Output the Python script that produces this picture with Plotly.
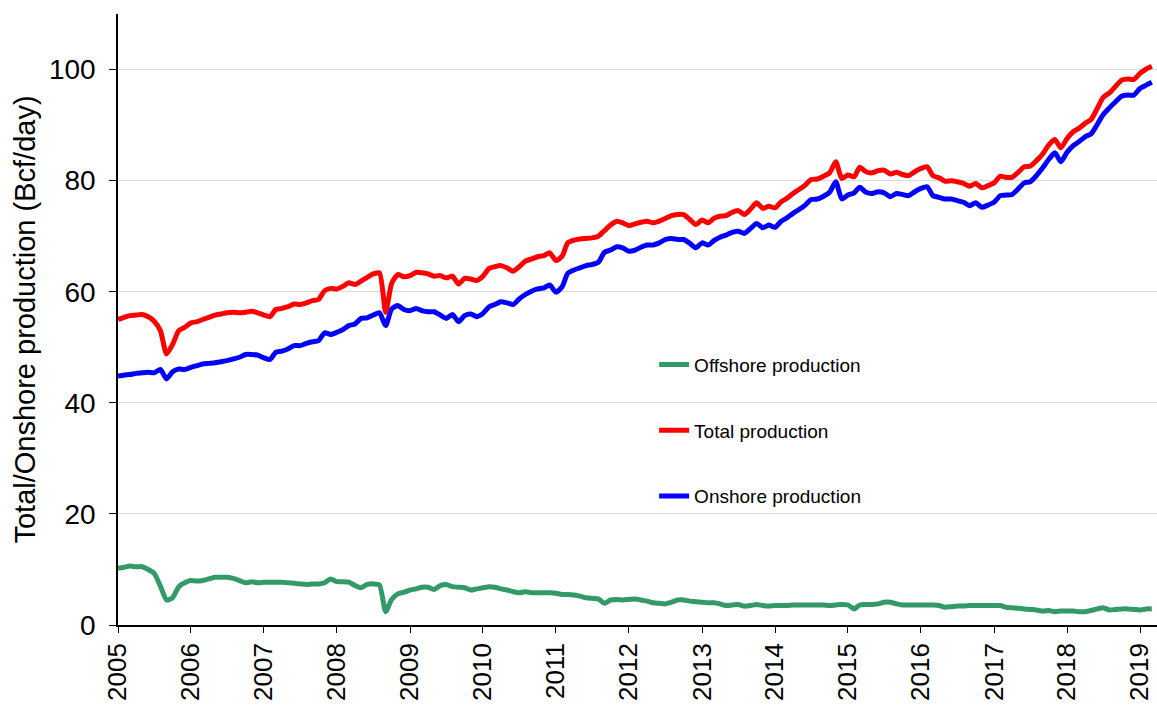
import pandas as pd
import plotly.graph_objects as go

# monthly values, Jan 2005 - Mar 2019 (Bcf/day)
total = [
    55.0, 55.4, 55.7, 55.8, 55.9, 55.5, 54.7, 53.0, 48.8, 50.5, 53.0, 53.6,  # 2005
    54.4, 54.6, 55.0, 55.4, 55.8, 56.0, 56.2, 56.3, 56.2, 56.3, 56.5, 56.2,  # 2006
    55.8, 55.5, 56.8, 57.0, 57.3, 57.8, 57.7, 58.0, 58.4, 58.6, 60.2, 60.6,  # 2007
    60.5, 61.0, 61.6, 61.3, 61.9, 62.6, 63.2, 63.4, 56.3, 61.5, 63.1, 62.7,  # 2008
    62.9, 63.5, 63.4, 63.2, 62.8, 62.9, 62.5, 62.8, 61.4, 62.4, 62.3, 62.0,  # 2009
    62.8, 64.2, 64.5, 64.7, 64.3, 63.7, 64.5, 65.5, 65.9, 66.3, 66.5, 67.0,  # 2010
    65.6, 66.4, 68.8, 69.3, 69.5, 69.6, 69.7, 70.0, 71.0, 72.0, 72.7, 72.4,  # 2011
    71.9, 72.2, 72.5, 72.7, 72.4, 72.7, 73.2, 73.7, 73.9, 73.9, 73.0, 72.1,  # 2012
    72.9, 72.4, 73.2, 73.6, 73.7, 74.3, 74.6, 73.9, 74.9, 76.0, 75.0, 75.4,  # 2013
    75.1, 76.2, 76.8, 77.7, 78.4, 79.2, 80.2, 80.3, 80.8, 81.4, 83.4, 80.4,  # 2014
    81.0, 80.7, 82.4, 81.6, 81.4, 81.8, 81.9, 81.2, 81.5, 81.1, 80.9, 81.6,  # 2015
    82.2, 82.5, 80.9, 80.5, 79.9, 80.0, 79.8, 79.5, 79.0, 79.5, 78.7, 79.1,  # 2016
    79.6, 80.8, 80.6, 80.6, 81.5, 82.5, 82.6, 83.6, 84.8, 86.4, 87.4, 85.9,  # 2017
    87.6, 88.8, 89.4, 90.3, 91.0, 93.0, 95.0, 95.8, 97.0, 98.1, 98.3, 98.2,  # 2018
    99.3, 100.1, 100.6,                                                      # 2019
]

offshore = [
    10.2, 10.4, 10.6, 10.5, 10.5, 10.0, 9.3, 7.0, 4.5, 4.9, 6.9, 7.6,
    8.0, 7.9, 8.0, 8.3, 8.6, 8.6, 8.6, 8.4, 8.0, 7.6, 7.8, 7.6,
    7.7, 7.7, 7.7, 7.7, 7.6, 7.5, 7.4, 7.3, 7.4, 7.4, 7.6, 8.3,
    7.8, 7.8, 7.7, 7.1, 6.7, 7.3, 7.4, 7.2, 2.4, 4.6, 5.6, 5.9,
    6.3, 6.5, 6.8, 6.8, 6.4, 7.1, 7.3, 6.9, 6.8, 6.7, 6.3, 6.5,
    6.7, 6.9, 6.8, 6.5, 6.3, 6.0, 5.8, 6.0, 5.8, 5.8, 5.8, 5.8,
    5.7, 5.5, 5.5, 5.4, 5.2, 4.9, 4.8, 4.7, 3.9, 4.5, 4.6, 4.5,
    4.6, 4.7, 4.5, 4.3, 4.0, 3.9, 3.8, 4.1, 4.5, 4.5, 4.3, 4.2,
    4.1, 4.0, 4.0, 3.8, 3.5, 3.6, 3.7, 3.4, 3.5, 3.7, 3.5, 3.4,
    3.5, 3.5, 3.5, 3.6, 3.6, 3.6, 3.6, 3.6, 3.6, 3.5, 3.6, 3.7,
    3.6, 2.9, 3.6, 3.7, 3.7, 3.8, 4.1, 4.1, 3.8, 3.6, 3.6, 3.6,
    3.6, 3.6, 3.6, 3.5, 3.2, 3.3, 3.4, 3.4, 3.5, 3.5, 3.5, 3.5,
    3.5, 3.5, 3.2, 3.1, 3.0, 2.9, 2.8, 2.7, 2.5, 2.6, 2.4, 2.5,
    2.5, 2.5, 2.4, 2.4, 2.6, 2.9, 3.1, 2.7, 2.8, 2.9, 2.9, 2.8,
    2.7, 2.9, 2.9,
]

# onshore = total - offshore
onshore = [round(t - o, 2) for t, o in zip(total, offshore)]

months = pd.date_range("2005-01-01", periods=len(total), freq="MS")

font_name = "Liberation Sans"

# smoothed lines like the original spreadsheet chart
def line_style(color):
    return dict(color=color, width=5, shape="spline", smoothing=0.6)

fig = go.Figure()

fig.add_trace(go.Scatter(
    x=months, y=onshore, mode="lines", name="Onshore production",
    line=line_style("#0000ff"), legendrank=3, legendgroup="c",
))
fig.add_trace(go.Scatter(
    x=months, y=offshore, mode="lines", name="Offshore production",
    line=line_style("#339966"), legendrank=1, legendgroup="a",
))
fig.add_trace(go.Scatter(
    x=months, y=total, mode="lines", name="Total production",
    line=line_style("#ff0000"), legendrank=2, legendgroup="b",
))

# white block behind the legend that hides the gridlines
fig.add_shape(type="rect", xref="paper", yref="paper",
              x0=0.414, x1=0.834, y0=0.17, y1=0.47,
              fillcolor="white", line_width=0, layer="between")

fig.update_layout(
    width=1157, height=707,
    margin=dict(l=118, r=0, t=14, b=82),
    plot_bgcolor="white", paper_bgcolor="white",
    font=dict(family=font_name, color="black"),
    legend=dict(
        x=0.516, y=0.457, xanchor="left", yanchor="top",
        bgcolor="rgba(0,0,0,0)", font=dict(size=19, family=font_name),
        tracegroupgap=38, itemwidth=30,
    ),
    xaxis=dict(
        range=["2005-01-01", "2019-03-27"], automargin=False,
        tick0="2005-01-01", dtick="M12", tickformat="%Y",
        tickangle=-90, tickfont=dict(size=26),
        showgrid=False, showline=True, linecolor="black", linewidth=1.5,
        ticks="outside", ticklen=6, tickcolor="black",
    ),
    yaxis=dict(
        range=[0, 110], dtick=20, tickfont=dict(size=28), automargin=False,
        showgrid=True, gridcolor="#d9d9d9", gridwidth=1, zeroline=False,
        showline=True, linecolor="black", linewidth=1.5,
        ticks="outside", ticklen=7, tickcolor="black", ticklabelstandoff=8,
        title=dict(text="Total/Onshore production (Bcf/day)", font=dict(size=29), standoff=5),
    ),
)

# page without the default body margin or scrollbars
fig.write_html(
    "out.html",
    config={"displayModeBar": False},
    post_script="document.body.style.margin='0';document.body.style.overflow='hidden';",
)
